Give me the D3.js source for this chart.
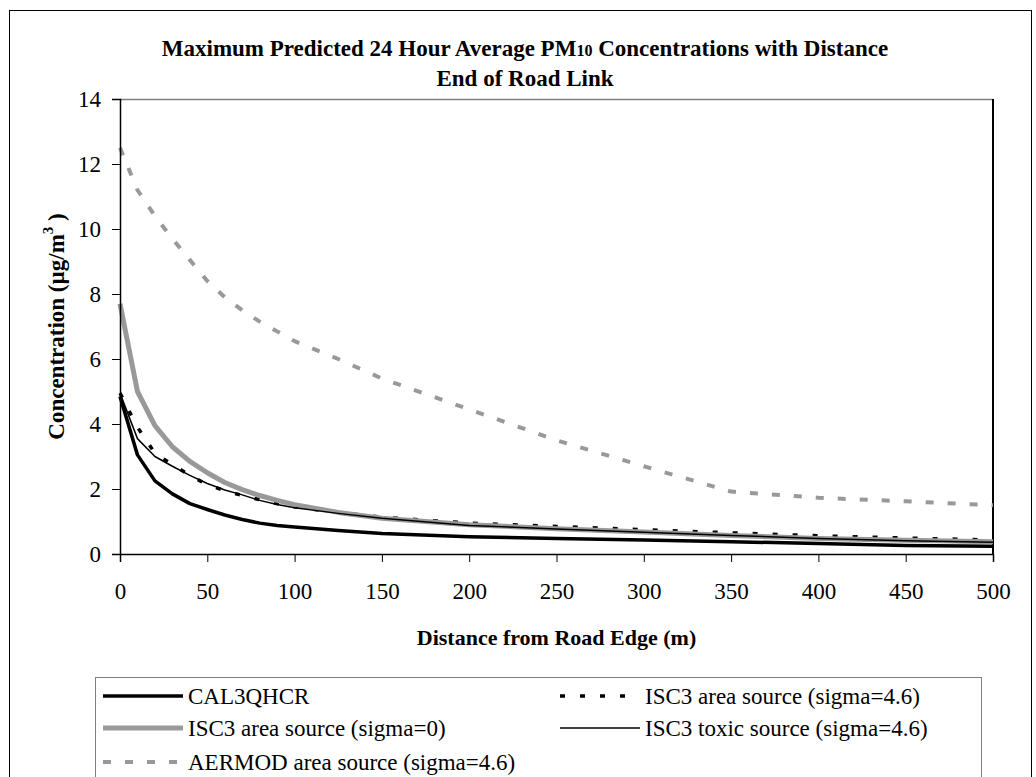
<!DOCTYPE html>
<html><head><meta charset="utf-8">
<script src="https://cdn.jsdelivr.net/npm/d3@7"></script>
<style>body{margin:0;background:#fff}svg text{font-family:"Liberation Serif","Times New Roman",serif}</style>
</head><body>
<svg id="c" width="1036" height="777"></svg>
<script>
// ---- data ----
const distances = [0,10,20,30,40,50,60,70,80,90,100,125,150,200,250,300,350,400,450,500];
const cal3qhcr   = [4.85,3.05,2.25,1.85,1.55,1.37,1.2,1.06,0.95,0.88,0.83,0.72,0.63,0.53,0.48,0.43,0.38,0.32,0.26,0.24];
const isc3Area46 = [4.95,3.9,3.1,2.75,2.42,2.13,1.95,1.8,1.67,1.55,1.45,1.28,1.13,0.95,0.85,0.75,0.65,0.56,0.49,0.43];
const isc3Area0  = [7.7,5.0,3.95,3.3,2.85,2.5,2.2,1.98,1.8,1.65,1.52,1.28,1.1,0.9,0.78,0.68,0.57,0.48,0.42,0.38];
const isc3Toxic  = [4.95,3.55,3.0,2.7,2.42,2.17,1.97,1.82,1.65,1.52,1.42,1.25,1.1,0.88,0.77,0.67,0.57,0.48,0.41,0.36];
const aermod     = [12.5,11.2,10.4,9.7,9.05,8.4,7.9,7.5,7.15,6.85,6.55,6.0,5.4,4.45,3.5,2.7,1.92,1.73,1.62,1.5];
const seriesNames = ["CAL3QHCR","ISC3 area source (sigma=4.6)","ISC3 area source (sigma=0)","ISC3 toxic source (sigma=4.6)","AERMOD area source (sigma=4.6)"];
const xTicks = [0,50,100,150,200,250,300,350,400,450,500];
const yTicks = [0,2,4,6,8,10,12,14];

// ---- styles ----
const styles = [
  {color:"#000", width:3.5, dash:null},
  {color:"#000", width:3.5, dash:"5,15"},
  {color:"#999", width:5, dash:null},
  {color:"#000", width:1.5, dash:null},
  {color:"#999", width:4, dash:"8,14"}
];
const seriesValues = [cal3qhcr, isc3Area46, isc3Area0, isc3Toxic, aermod];

const svg = d3.select("#c");
const P = {left:120, top:99, right:993, bottom:554};
const x = d3.scaleLinear().domain([0,500]).range([P.left, P.right]);
const y = d3.scaleLinear().domain([0,14]).range([P.bottom, P.top]);

// outer border
svg.append("rect").attr("x",9.5).attr("y",10.5).attr("width",1022).attr("height",800)
  .attr("fill","none").attr("stroke","#000").attr("stroke-width",1);

// plot area frame
svg.append("line").attr("x1",P.left).attr("x2",P.right).attr("y1",P.top+0.5).attr("y2",P.top+0.5)
  .attr("stroke","#808080").attr("stroke-width",1.5);
svg.append("line").attr("x1",P.right).attr("x2",P.right).attr("y1",P.top).attr("y2",P.bottom)
  .attr("stroke","#000").attr("stroke-width",2);

// series
const line = d3.line().x((d,i)=>x(distances[i])).y(d=>y(d));
seriesValues.forEach((vals,k)=>{
  const s = styles[k];
  svg.append("path").datum(vals).attr("d",line)
    .attr("fill","none").attr("stroke",s.color).attr("stroke-width",s.width)
    .attr("stroke-dasharray",s.dash).attr("stroke-linejoin","round");
});

// axes
const yAxis = d3.axisLeft(y).tickValues(yTicks).tickSize(8).tickPadding(11).tickFormat(d3.format("d"));
const gy = svg.append("g").attr("transform",`translate(${P.left},0)`).call(yAxis);
const xAxis = d3.axisBottom(x).tickValues(xTicks).tickSize(8).tickPadding(21).tickFormat(d3.format("d"));
const gx = svg.append("g").attr("transform",`translate(0,${P.bottom})`).call(xAxis);
[gx,gy].forEach(g=>{
  g.select(".domain").attr("stroke","#000").attr("stroke-width",1.5);
  g.selectAll(".tick line").attr("stroke","#000").attr("stroke-width",1);
  g.selectAll(".tick text").attr("font-size",23).attr("fill","#000")
    .attr("font-family",'"Liberation Serif","Times New Roman",serif');
});

// titles
const title = svg.append("text").attr("x",525).attr("y",56).attr("text-anchor","middle")
  .attr("font-size",23).attr("font-weight","bold");
title.append("tspan").text("Maximum Predicted 24 Hour Average PM");
title.append("tspan").attr("font-size",16).text("10");
title.append("tspan").text(" Concentrations with Distance");
svg.append("text").attr("x",525).attr("y",86).attr("text-anchor","middle")
  .attr("font-size",23).attr("font-weight","bold").text("End of Road Link");

svg.append("text").attr("x",(P.left+P.right)/2).attr("y",645).attr("text-anchor","middle")
  .attr("font-size",22).attr("font-weight","bold").text("Distance from Road Edge (m)");

const yt = svg.append("text").attr("transform",`translate(64,${(P.top+P.bottom)/2}) rotate(-90)`)
  .attr("text-anchor","middle").attr("font-size",23).attr("font-weight","bold");
yt.append("tspan").text("Concentration (µg/m");
yt.append("tspan").attr("font-size",15).attr("dy",-11).text("3");
yt.append("tspan").attr("dy",11).text(" )");

// legend
svg.append("rect").attr("x",95.5).attr("y",677.5).attr("width",886).attr("height",140)
  .attr("fill","#fff").attr("stroke","#808080").attr("stroke-width",1);
const legPos = [
  {x:103, y:696}, {x:560, y:696},
  {x:103, y:728}, {x:560, y:728},
  {x:103, y:762}
];
seriesNames.forEach((name,k)=>{
  const s = styles[k], p = legPos[k];
  svg.append("line").attr("x1",p.x).attr("x2",p.x+80).attr("y1",p.y).attr("y2",p.y)
    .attr("stroke",s.color).attr("stroke-width",s.width).attr("stroke-dasharray",s.dash);
  svg.append("text").attr("x",p.x+85).attr("y",p.y+8).attr("font-size",23).text(name);
});
</script>
</body></html>
